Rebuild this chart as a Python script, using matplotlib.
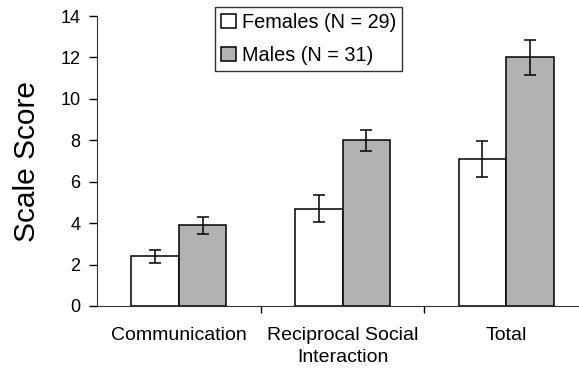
import matplotlib
matplotlib.use('Agg')
import matplotlib.pyplot as plt
import numpy as np

plt.rcParams['font.family'] = ['Liberation Sans', 'DejaVu Sans']

# data
categories = ['Communication', 'Reciprocal Social\nInteraction', 'Total']
females = [2.4, 4.7, 7.1]
females_err = [0.3, 0.64, 0.86]
males = [3.9, 8.0, 12.0]
males_err = [0.42, 0.5, 0.83]
legend_labels = ['Females (N = 29)', 'Males (N = 31)']

x = np.arange(len(categories))
width = 0.29

fig = plt.figure(figsize=(5.79, 3.71), dpi=100)
ax = fig.add_axes([97/579, 1 - 306/371, 491/579, 290/371])

err_style = dict(ecolor='black', capsize=4.5, elinewidth=1.1, capthick=1.1)
ax.bar(x - width/2, females, width, yerr=females_err, color='white',
       edgecolor='black', linewidth=1.1, label=legend_labels[0], error_kw=err_style)
ax.bar(x + width/2, males, width, yerr=males_err, color='#b2b2b2',
       edgecolor='black', linewidth=1.1, label=legend_labels[1], error_kw=err_style)

ax.set_xlim(-0.5, 2.5)
ax.set_ylim(0, 14)
ax.set_yticks(range(0, 15, 2))
ax.set_xticks(x)
ax.set_xticklabels(categories, fontsize=14, linespacing=1.4)
ax.set_xticks([0.5, 1.5], minor=True)
ax.tick_params(axis='x', which='major', length=0, pad=15)
ax.tick_params(axis='x', which='minor', length=5, width=1)
ax.tick_params(axis='y', labelsize=13, length=6, width=1, pad=6)
ax.spines['top'].set_visible(False)
ax.spines['right'].set_visible(False)
ax.spines['left'].set_color('#333333')
ax.spines['bottom'].set_color('#333333')
ax.set_ylabel('Scale Score', fontsize=21.5, labelpad=14)

leg = ax.legend(loc='upper left', bbox_to_anchor=(215/579, 1 - 7/371),
                bbox_transform=fig.transFigure, borderaxespad=0,
                fontsize=14.3, frameon=True, fancybox=False, edgecolor='black',
                handlelength=0.75, handleheight=0.75, handletextpad=0.3,
                borderpad=0.3, labelspacing=0.7)
leg.get_frame().set_linewidth(1.0)

fig.savefig('out.png', dpi=100)
